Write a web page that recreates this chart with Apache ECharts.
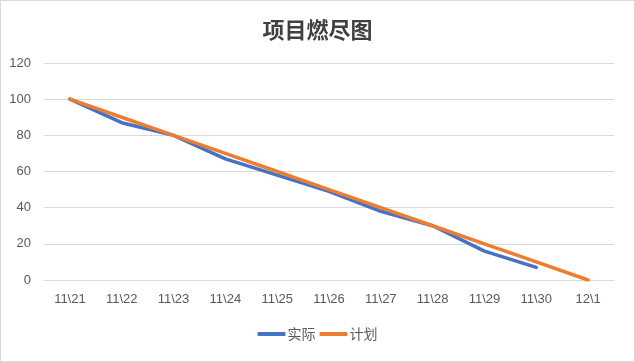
<!DOCTYPE html>
<html><head><meta charset="utf-8">
<script src="https://cdn.jsdelivr.net/npm/echarts@6/dist/echarts.min.js"></script>
<style>html,body{margin:0;padding:0;background:#fff}#c{width:635px;height:362px;box-sizing:border-box;border:1px solid #d9d9d9;}</style>
</head><body><div id="c"></div>
<script>
const categories = ['11\\21','11\\22','11\\23','11\\24','11\\25','11\\26','11\\27','11\\28','11\\29','11\\30','12\\1'];
const actual = [100, 87, 80, 67, 58, 49, 38, 30, 16, 7];
const plan = [100, 90, 80, 70, 60, 50, 40, 30, 20, 10, 0];
const yTicks = {min: 0, max: 120, interval: 20};
const chart = echarts.init(document.getElementById('c'));
chart.setOption({
  animation: false,
  title: {text: '项目燃尽图', left: 'center', top: 13,
    textStyle: {fontFamily: 'Noto Sans CJK SC', fontSize: 22, fontWeight: 'bold', color: '#404040'}},
  grid: {left: 43, right: 20, top: 62, bottom: 81, containLabel: false},
  legend: {bottom: 15, left: 'center', itemWidth: 28, itemHeight: 4, itemGap: 4, icon: 'roundRect',
    textStyle: {fontFamily: 'Noto Sans CJK SC', fontSize: 14, color: '#595959', padding: [0,0,0,-3]},
    data: ['实际', '计划']},
  xAxis: {type: 'category', data: categories, boundaryGap: true,
    axisLine: {lineStyle: {color: '#d9d9d9'}}, axisTick: {show: false},
    axisLabel: {color: '#595959', fontSize: 13, margin: 13, fontFamily: 'Liberation Sans'}},
  yAxis: {type: 'value', min: yTicks.min, max: yTicks.max, interval: yTicks.interval,
    axisLine: {show: false}, axisTick: {show: false},
    splitLine: {lineStyle: {color: '#d9d9d9'}},
    axisLabel: {color: '#595959', fontSize: 13, margin: 13, fontFamily: 'Liberation Sans'}},
  series: [
    {name: '实际', type: 'line', data: actual, symbol: 'none', lineStyle: {width: 3.5, color: '#4472C4', cap: 'round'}, itemStyle: {color: '#4472C4'}, z: 2},
    {name: '计划', type: 'line', data: plan, symbol: 'none', lineStyle: {width: 3.5, color: '#ED7D31', cap: 'round'}, itemStyle: {color: '#ED7D31'}, z: 3}
  ]
});
</script></body></html>
